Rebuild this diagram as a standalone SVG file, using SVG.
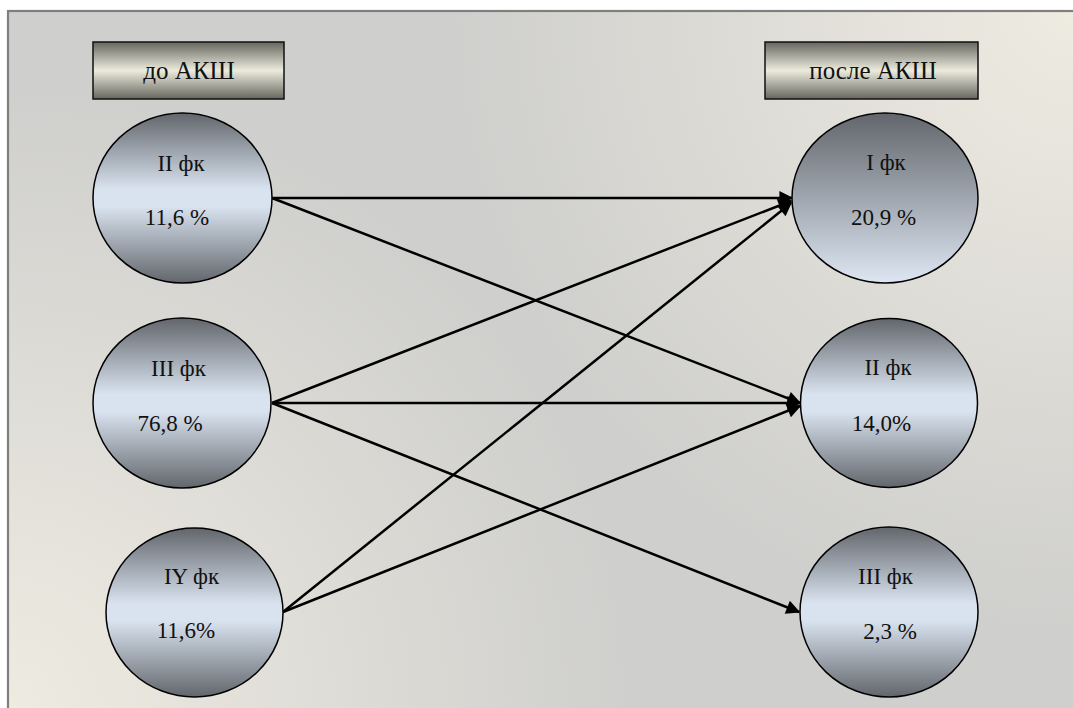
<svg xmlns="http://www.w3.org/2000/svg" width="1073" height="708" viewBox="0 0 1073 708">
<defs>
<radialGradient id="bgTR" gradientUnits="userSpaceOnUse" cx="1073" cy="11" r="620">
<stop offset="0" stop-color="#eeebe1" stop-opacity="1"/>
<stop offset="1" stop-color="#eeebe1" stop-opacity="0"/>
</radialGradient>
<radialGradient id="bgBL" gradientUnits="userSpaceOnUse" cx="8" cy="708" r="620">
<stop offset="0" stop-color="#eeebe1" stop-opacity="1"/>
<stop offset="1" stop-color="#eeebe1" stop-opacity="0"/>
</radialGradient>
<linearGradient id="hdr" x1="0" y1="0" x2="0" y2="1">
<stop offset="0" stop-color="#66665f"/>
<stop offset="0.5" stop-color="#ecebdd"/>
<stop offset="1" stop-color="#66665f"/>
</linearGradient>
<linearGradient id="cir" x1="0" y1="0" x2="0" y2="1">
<stop offset="0" stop-color="#62666c"/>
<stop offset="0.45" stop-color="#d9e3ef"/>
<stop offset="0.55" stop-color="#d9e3ef"/>
<stop offset="1" stop-color="#62666c"/>
</linearGradient>
<linearGradient id="cir1" x1="0" y1="0" x2="0" y2="1">
<stop offset="0" stop-color="#62666c"/>
<stop offset="1" stop-color="#dde6f2"/>
</linearGradient>
<marker id="ah" viewBox="0 0 10 10" refX="9" refY="5" markerWidth="17" markerHeight="14" markerUnits="userSpaceOnUse" orient="auto">
<path d="M0,0 L10,5 L0,10 z" fill="#000"/>
</marker>
<style>
.hdr{fill:url(#hdr);stroke:#111;stroke-width:1.5}
.c{fill:url(#cir);stroke:#000;stroke-width:1.5}
.c1{fill:url(#cir1);stroke:#000;stroke-width:1.5}
text{font-family:"Liberation Serif","Times New Roman",serif;fill:#111;text-anchor:middle}
.ht{font-size:25px}
.ct{font-size:23px}
.conn line{stroke:#000;stroke-width:2.5;fill:none;marker-end:url(#ah)}
</style>
</defs>
<rect x="0" y="0" width="1073" height="708" fill="#fff"/>
<rect x="8" y="11" width="1070" height="702" fill="#cfcfcd"/>
<rect x="8" y="11" width="1070" height="702" fill="url(#bgTR)"/>
<rect x="8" y="11" width="1070" height="702" fill="url(#bgBL)"/>
<rect x="8" y="11" width="1070" height="702" fill="none" stroke="#7f7f7f" stroke-width="2.2"/>

<g id="hdr-before">
<rect class="hdr" x="93" y="42" width="191" height="57"/>
<text class="ht" x="189" y="79">до АКШ</text>
</g>
<g id="hdr-after">
<rect class="hdr" x="765" y="42" width="213" height="57"/>
<text class="ht" x="873" y="79">после АКШ</text>
</g>

<g class="conn" id="connectors">
<line x1="272" y1="198" x2="792" y2="198"/>
<line x1="272" y1="198" x2="800" y2="403"/>
<line x1="272" y1="403" x2="791" y2="201"/>
<line x1="272" y1="403" x2="800" y2="403"/>
<line x1="272" y1="403" x2="799" y2="612"/>
<line x1="283" y1="612" x2="791" y2="203"/>
<line x1="283" y1="612" x2="800" y2="406"/>
</g>

<g id="before-II">
<ellipse class="c" cx="182.5" cy="198" rx="89.5" ry="85"/>
<text class="ct" x="181" y="171">II фк</text>
<text class="ct" x="177" y="225">11,6 %</text>
</g>
<g id="before-III">
<ellipse class="c" cx="182" cy="403" rx="89" ry="85"/>
<text class="ct" x="178.5" y="376">III фк</text>
<text class="ct" x="170" y="431">76,8 %</text>
</g>
<g id="before-IY">
<ellipse class="c" cx="194.5" cy="612.5" rx="88.5" ry="84.5"/>
<text class="ct" x="191.5" y="584">IY фк</text>
<text class="ct" x="186" y="638">11,6%</text>
</g>
<g id="after-I">
<ellipse class="c1" cx="885" cy="198" rx="93" ry="85"/>
<text class="ct" x="886" y="170">I фк</text>
<text class="ct" x="883.5" y="225">20,9 %</text>
</g>
<g id="after-II">
<ellipse class="c" cx="889" cy="403" rx="88.5" ry="84.5"/>
<text class="ct" x="888" y="375">II фк</text>
<text class="ct" x="881.5" y="431">14,0%</text>
</g>
<g id="after-III">
<ellipse class="c" cx="889" cy="612" rx="89" ry="85"/>
<text class="ct" x="885.5" y="584">III фк</text>
<text class="ct" x="890" y="639">2,3 %</text>
</g>
</svg>
